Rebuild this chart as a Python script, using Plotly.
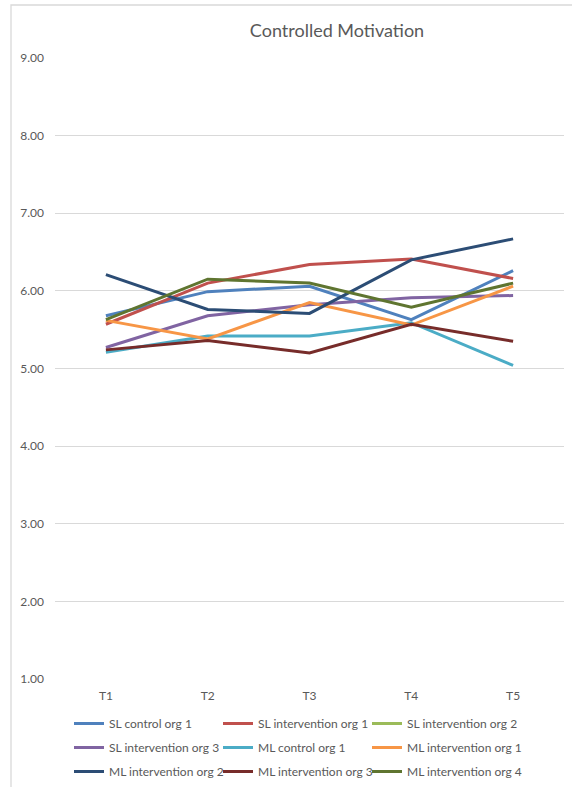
import plotly.graph_objects as go

# Measurement occasions
timepoints = ["T1", "T2", "T3", "T4", "T5"]

# Mean controlled motivation per group at each occasion
sl_control_org1 = [5.68, 5.99, 6.06, 5.63, 6.26]
sl_intervention_org1 = [5.57, 6.10, 6.34, 6.41, 6.16]
sl_intervention_org2 = [None, None, None, None, None]
sl_intervention_org3 = [5.27, 5.68, 5.82, 5.91, 5.94]
ml_control_org1 = [5.21, 5.42, 5.42, 5.59, 5.04]
ml_intervention_org1 = [5.62, 5.38, 5.85, 5.56, 6.06]
ml_intervention_org2 = [6.21, 5.76, 5.71, 6.40, 6.67]
ml_intervention_org3 = [5.24, 5.36, 5.20, 5.57, 5.35]
ml_intervention_org4 = [5.63, 6.15, 6.10, 5.79, 6.10]

# Y axis tick values and labels
y_ticks = [1, 2, 3, 4, 5, 6, 7, 8, 9]
y_tick_labels = ["1.00", "2.00", "3.00", "4.00", "5.00", "6.00", "7.00", "8.00", "9.00"]

# (name, values, colour, legend column)
series = [
    ("SL control org 1", sl_control_org1, "#4F81BD", "legend"),
    ("SL intervention org 1", sl_intervention_org1, "#C0504D", "legend2"),
    ("SL intervention org 2", sl_intervention_org2, "#9BBB59", "legend3"),
    ("SL intervention org 3", sl_intervention_org3, "#8064A2", "legend"),
    ("ML control org 1", ml_control_org1, "#4BACC6", "legend2"),
    ("ML intervention org 1", ml_intervention_org1, "#F79646", "legend3"),
    ("ML intervention org 2", ml_intervention_org2, "#2C4D75", "legend"),
    ("ML intervention org 3", ml_intervention_org3, "#772C2A", "legend2"),
    ("ML intervention org 4", ml_intervention_org4, "#5F7530", "legend3"),
]

FONT = "Lato, 'Open Sans', sans-serif"
TEXT_GREY = "#595959"
GRID = "#D9D9D9"

W, H = 572, 787
ML, MR, MT, MB = 55, 8, 58, 108
PW = W - ML - MR
PH = H - MT - MB


def px_x(x):
    return (x - ML) / PW


def px_y(y):
    return (H - MB - y) / PH


fig = go.Figure()
for name, vals, color, leg in series:
    fig.add_trace(go.Scatter(
        x=timepoints, y=vals, name=name, mode="lines",
        line=dict(color=color, width=3),
        legend=leg, legendgroup=name,
    ))

legend_common = dict(
    orientation="v", xanchor="left", yanchor="top",
    y=px_y(709),
    font=dict(family=FONT, size=12, color=TEXT_GREY),
    bgcolor="rgba(0,0,0,0)", borderwidth=0, itemclick=False,
    tracegroupgap=5,
)

fig.update_layout(
    width=W, height=H,
    margin=dict(l=ML, r=MR, t=MT, b=MB, autoexpand=False),
    paper_bgcolor="white", plot_bgcolor="white",
    font=dict(family=FONT, color=TEXT_GREY),
    title=dict(
        text="Controlled Motivation",
        x=px_x(337), xref="paper", xanchor="center",
        y=1 - 31 / H, yref="container", yanchor="middle",
        font=dict(family=FONT, size=18, color=TEXT_GREY),
    ),
    xaxis=dict(
        type="category", range=[-0.5, 4.5], showgrid=False,
        showline=False, zeroline=False, ticks="",
        tickfont=dict(family=FONT, size=12, color=TEXT_GREY),
        ticklabelstandoff=8,
    ),
    yaxis=dict(
        range=[1, 9], tickvals=y_ticks, ticktext=y_tick_labels,
        showgrid=True, gridcolor=GRID, gridwidth=1.3,
        zeroline=False, showline=False, ticks="",
        tickfont=dict(family=FONT, size=12, color=TEXT_GREY),
        ticklabelstandoff=10,
    ),
    legend=dict(legend_common, x=px_x(69)),
    legend2=dict(legend_common, x=px_x(218)),
    legend3=dict(legend_common, x=px_x(367)),
    shapes=[
        dict(type="rect", xref="paper", yref="paper",
             x0=px_x(11), x1=px_x(700), y0=px_y(900), y1=px_y(5),
             line=dict(color=GRID, width=1.3), fillcolor="rgba(0,0,0,0)",
             layer="below"),
    ],
    showlegend=True,
)

fig.write_html("out.html")
